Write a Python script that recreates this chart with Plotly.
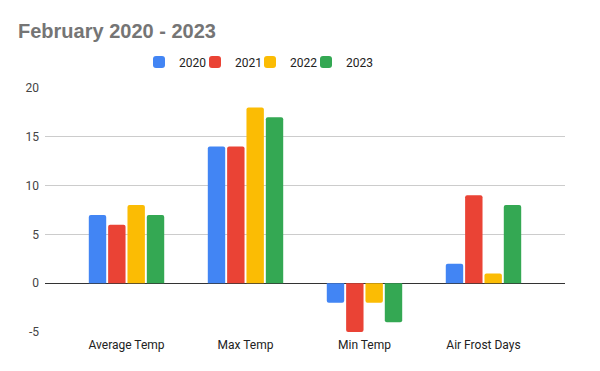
import plotly.graph_objects as go

categories = ["Average Temp", "Max Temp", "Min Temp", "Air Frost Days"]
years = ["2020", "2021", "2022", "2023"]
values = {
    "2020": [7, 14, -2, 2],
    "2021": [6, 14, -5, 9],
    "2022": [8, 18, -2, 1],
    "2023": [7, 17, -4, 8],
}
colors = {"2020": "#4285F4", "2021": "#EA4335", "2022": "#FBBC04", "2023": "#34A853"}
y_ticks = [-5, 0, 5, 10, 15, 20]
y_tick_text = ["-5", "0", "5", "10", "15", "20"]

# legend square centres (px) for each series
legend_x = [160, 216, 271, 327]

fig = go.Figure()
layout_legends = {}
for i, y in enumerate(years):
    lname = "legend" if i == 0 else f"legend{i+1}"
    fig.add_trace(go.Bar(x=categories, y=values[y], name=y, legend=lname, showlegend=True,
                         marker=dict(color=colors[y], line=dict(width=0))))
    layout_legends[lname] = dict(
        orientation="h", x=(legend_x[i] - 21) / 600, xanchor="left", xref="container",
        y=1 - 62 / 371, yanchor="middle", yref="container",
        font=dict(size=12, color="#222222", family="Roboto, Arial, sans-serif"),
        bgcolor="rgba(0,0,0,0)", borderwidth=0,
    )

fig.update_layout(
    width=600, height=371, showlegend=True,
    paper_bgcolor="white", plot_bgcolor="white",
    margin=dict(l=45, r=35, t=88, b=39, autoexpand=False),
    barmode="group", bargap=0.35, bargroupgap=0.1, barcornerradius=2,
    font=dict(family="Roboto, Arial, sans-serif", size=12, color="#222222"),
    title=dict(text="<b>February 2020 - 2023</b>", x=18/600, xanchor="left",
               y=1 - 31/371, yanchor="middle", pad=dict(l=0, t=0, b=0, r=0),
               font=dict(size=20, color="#757575", family="Liberation Sans, Arial, sans-serif")),
    xaxis=dict(range=[-0.685, 3.685], showgrid=False, showline=False, ticks="",
               tickfont=dict(color="#222222", size=12), ticklabelstandoff=4),
    yaxis=dict(range=[-5, 20], tickvals=y_ticks, ticktext=y_tick_text,
               showgrid=True, gridcolor="#cccccc",
               zeroline=True, zerolinecolor="#333333", zerolinewidth=1.2,
               ticks="", tickfont=dict(color="#444444", size=12), ticklabelstandoff=5),
    **layout_legends,
)
fig.write_html("out.html", config={"displayModeBar": False},
               post_script="document.body.style.margin='0';")
